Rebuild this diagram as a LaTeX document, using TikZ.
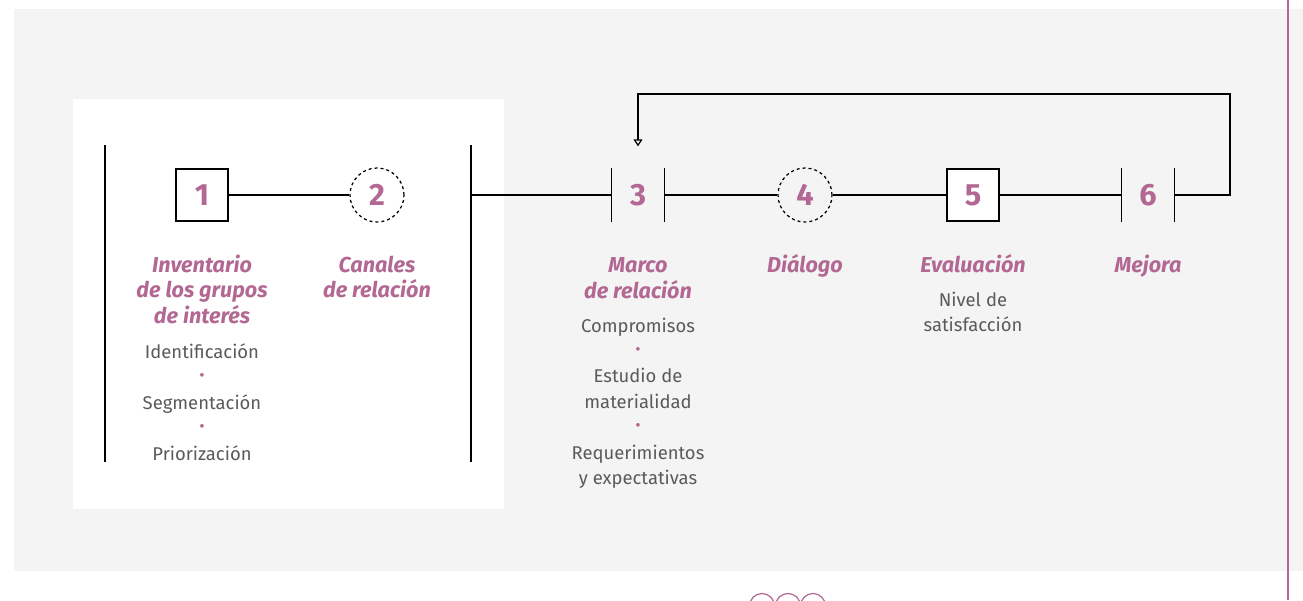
\documentclass[tikz,border=0pt]{standalone}
\usepackage{fontspec}
\setmainfont{Fira Sans}
\usetikzlibrary{arrows.meta}
\definecolor{rosa}{RGB}{178,104,146}
\definecolor{fondo}{RGB}{244,244,244}
\definecolor{gristexto}{RGB}{90,90,90}
\newcommand{\puntito}{{\color{rosa}\fontsize{15}{14.5}\selectfont ·}}
\begin{document}
\begin{tikzpicture}[x=0.02cm, y=-0.02cm, line width=0.7pt,
	paso/.style={rectangle, draw, minimum size=1.04cm, inner sep=0pt, fill=white, text=rosa, font=\bfseries\fontsize{17.5}{17.5}\selectfont},
	ronda/.style={circle, draw, dash pattern=on 1.7pt off 1.7pt, minimum size=1.08cm, inner sep=0pt, text=rosa, font=\bfseries\fontsize{17.5}{17.5}\selectfont},
	compuerta/.style={rectangle, minimum size=1.04cm, inner sep=0pt, text=rosa, font=\bfseries\fontsize{17.5}{17.5}\selectfont},
	titulo/.style={anchor=north, align=center, inner sep=0pt, text=rosa, font=\bfseries\itshape\fontsize{12.3}{14.5}\selectfont},
	cuerpo/.style={anchor=north, align=center, inner sep=0pt, text=gristexto, font=\fontsize{10.5}{14.5}\selectfont}]
	\useasboundingbox (0,0) rectangle (1303,600);
	\clip (0,0) rectangle (1303,600);
	% fondos
	\fill[fondo] (14,9) rectangle (1303,571);
	\fill[white] (73,99) rectangle (504,509);
	\draw[rosa, line width=0.9pt] (1288,0) -- (1288,600);
	\foreach \cx in {762,788,813}
		\draw[rosa] (\cx,606) circle (12.5);
	% etapas
	\draw (105,145) -- (105,462);
	\draw (471,145) -- (471,462);
	\coordinate (puerta) at (471,195);
	\coordinate (vuelta) at (1230,94);
	\node[paso] (n1) at (202,195) {1};
	\node[ronda] (n2) at (377,195) {2};
	\node[compuerta] (n3) at (638,195) {3};
	\node[ronda] (n4) at (805,195) {4};
	\node[paso] (n5) at (973,195) {5};
	\node[compuerta] (n6) at (1148,195) {6};
	\draw (n3.north west) -- (n3.south west) (n3.north east) -- (n3.south east);
	\draw (n6.north west) -- (n6.south west) (n6.north east) -- (n6.south east);
	\draw (n1) -- (n2);
	\draw (puerta) -- (n3.west);
	\draw (n3.east) -- (n4);
	\draw (n4) -- (n5);
	\draw (n5) -- (n6.west);
	\draw[-{Triangle[open, length=4pt, width=5pt]}, shorten >=0.44cm] (n6.east) -| (vuelta) -| (n3.north);
	% textos
	\node[titulo] (t1) at (202,254) {Inventario\\de los grupos\\de interés};
	\node[titulo] (t2) at (377,255) {Canales\\de relación};
	\node[titulo] (t3) at (638,257) {Marco\\de relación};
	\node[titulo] (t4) at (805,254) {Diálogo};
	\node[titulo] (t5) at (973,254) {Evaluación};
	\node[titulo] (t6) at (1148,254) {Mejora};
	\node[cuerpo] (b1) at (202,343) {Identificación\\\puntito\\Segmentación\\\puntito\\Priorización};
	\node[cuerpo] (b3) at (638,317) {Compromisos\\\puntito\\Estudio de\\materialidad\\\puntito\\Requerimientos\\y expectativas};
	\node[cuerpo] (b5) at (973,291) {Nivel de\\satisfacción};
\end{tikzpicture}
\end{document}
